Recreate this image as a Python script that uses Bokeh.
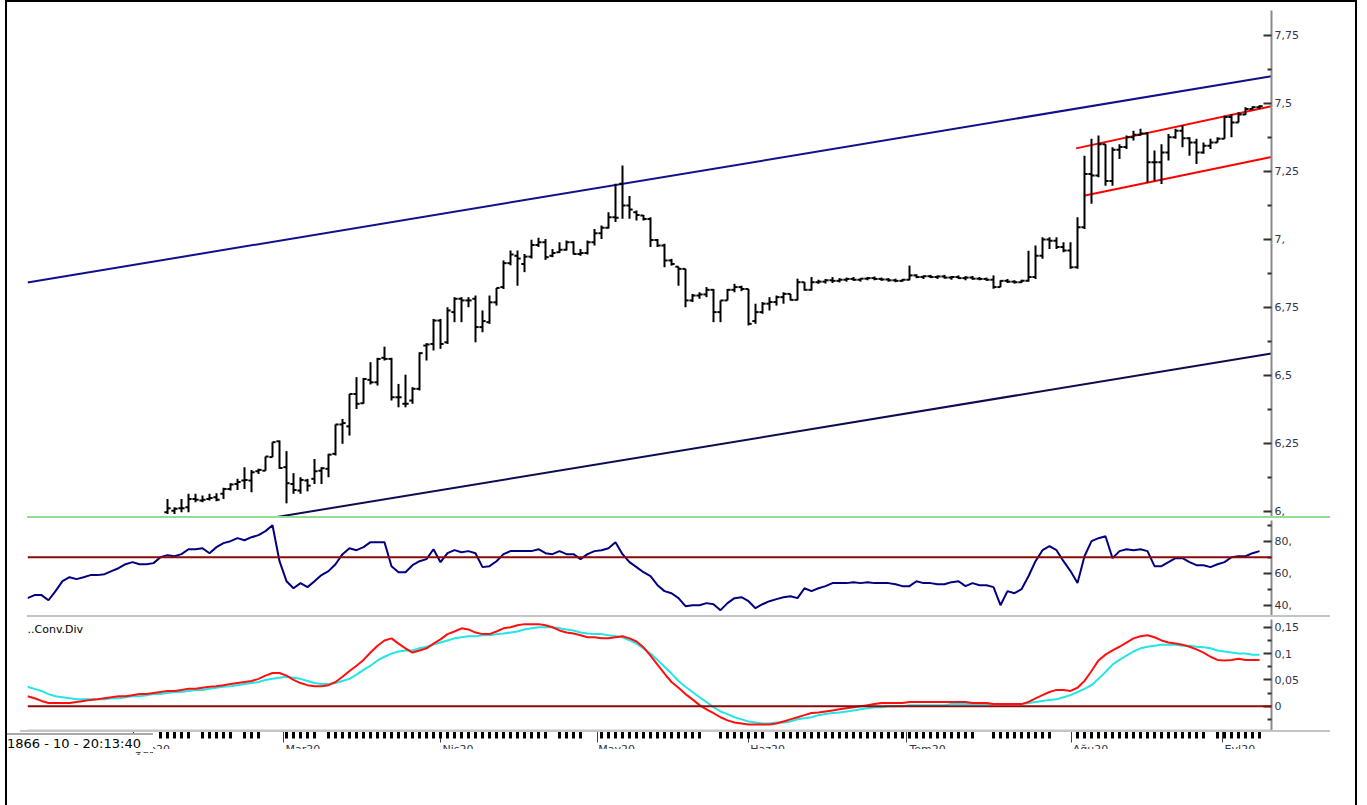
from bokeh.plotting import figure
from bokeh.models import Range1d, FixedTicker, Span, Label, Div
from bokeh.layouts import column, row
from bokeh.embed import file_html
from bokeh.resources import INLINE

FONT = "DejaVu Sans"

# ---------------- data ----------------
first_bar = 20  # bars before this index lie below the visible price range

opens = [5.997, 6.003, 6.012, 6.016, 6.046, 6.040, 6.046, 6.052, 6.065, 6.083,
         6.101, 6.114, 6.114, 6.148, 6.150, 6.200, 6.258, 6.163, 6.101, 6.077,
         6.114, 6.120, 6.150, 6.157, 6.212, 6.320, 6.313, 6.432, 6.398, 6.484,
         6.475, 6.565, 6.561, 6.420, 6.396, 6.408, 6.451, 6.610, 6.616, 6.702,
         6.622, 6.733, 6.782, 6.776, 6.782, 6.678, 6.696, 6.769, 6.825, 6.913,
         6.940, 6.910, 6.937, 6.980, 6.990, 6.940, 6.953, 6.962, 6.990, 6.947,
         6.950, 6.990, 7.023, 7.043, 7.082, 7.205, 7.125, 7.100, 7.088, 7.075,
         6.998, 6.978, 6.923, 6.900, 6.892, 6.776, 6.794, 6.798, 6.815, 6.733,
         6.776, 6.815, 6.825, 6.818, 6.700, 6.733, 6.764, 6.770, 6.788, 6.800,
         6.778, 6.843, 6.815, 6.843, 6.845, 6.850, 6.848, 6.852, 6.855, 6.852,
         6.856, 6.858, 6.855, 6.853, 6.850, 6.848, 6.852, 6.868, 6.862, 6.865,
         6.862, 6.864, 6.860, 6.862, 6.858, 6.860, 6.856, 6.855, 6.852, 6.825,
         6.848, 6.845, 6.843, 6.848, 6.862, 6.940, 7.000, 6.995, 6.972, 6.960,
         6.898, 7.045, 7.241, 7.235, 7.350, 7.215, 7.330, 7.340, 7.376, 7.385,
         7.390, 7.284, 7.284, 7.320, 7.376, 7.400, 7.372, 7.357, 7.320, 7.345,
         7.357, 7.370, 7.450, 7.430, 7.460, 7.480, 7.486]

highs = [6.046, 6.016, 6.046, 6.065, 6.065, 6.059, 6.065, 6.067, 6.087, 6.104,
         6.120, 6.163, 6.153, 6.157, 6.202, 6.255, 6.261, 6.222, 6.141, 6.126,
         6.120, 6.193, 6.163, 6.212, 6.320, 6.340, 6.432, 6.494, 6.491, 6.549,
         6.565, 6.606, 6.565, 6.469, 6.503, 6.457, 6.585, 6.619, 6.708, 6.708,
         6.751, 6.788, 6.788, 6.788, 6.794, 6.739, 6.794, 6.822, 6.923, 6.960,
         6.960, 6.947, 6.999, 7.006, 7.002, 6.965, 6.990, 6.996, 6.994, 6.965,
         6.996, 7.039, 7.051, 7.100, 7.205, 7.272, 7.160, 7.107, 7.090, 7.082,
         7.002, 6.984, 6.929, 6.900, 6.892, 6.800, 6.806, 6.825, 6.818, 6.776,
         6.818, 6.837, 6.830, 6.818, 6.764, 6.770, 6.788, 6.794, 6.806, 6.800,
         6.856, 6.843, 6.862, 6.852, 6.855, 6.862, 6.858, 6.860, 6.862, 6.858,
         6.862, 6.864, 6.860, 6.858, 6.856, 6.855, 6.904, 6.872, 6.868, 6.870,
         6.868, 6.870, 6.866, 6.868, 6.865, 6.866, 6.862, 6.860, 6.868, 6.850,
         6.855, 6.850, 6.852, 6.959, 6.978, 7.008, 7.008, 7.008, 6.990, 6.990,
         7.082, 7.308, 7.370, 7.382, 7.350, 7.339, 7.350, 7.382, 7.400, 7.407,
         7.395, 7.327, 7.350, 7.388, 7.407, 7.419, 7.376, 7.370, 7.357, 7.370,
         7.376, 7.455, 7.461, 7.468, 7.486, 7.490, 7.494]

lows = [5.991, 5.991, 5.997, 5.997, 6.034, 6.034, 6.040, 6.038, 6.046, 6.077,
        6.079, 6.083, 6.071, 6.138, 6.150, 6.200, 6.157, 6.030, 6.065, 6.065,
        6.074, 6.101, 6.101, 6.126, 6.206, 6.249, 6.279, 6.377, 6.396, 6.467,
        6.463, 6.555, 6.408, 6.383, 6.383, 6.396, 6.445, 6.555, 6.592, 6.598,
        6.616, 6.696, 6.696, 6.751, 6.622, 6.659, 6.690, 6.757, 6.818, 6.905,
        6.830, 6.880, 6.930, 6.972, 6.925, 6.935, 6.950, 6.960, 6.945, 6.940,
        6.945, 6.978, 7.002, 7.040, 7.064, 7.076, 7.076, 7.070, 7.070, 6.972,
        6.972, 6.898, 6.904, 6.830, 6.751, 6.770, 6.782, 6.788, 6.696, 6.696,
        6.776, 6.806, 6.810, 6.684, 6.690, 6.727, 6.739, 6.757, 6.764, 6.776,
        6.776, 6.812, 6.812, 6.837, 6.838, 6.840, 6.842, 6.845, 6.848, 6.845,
        6.850, 6.850, 6.848, 6.845, 6.843, 6.845, 6.850, 6.858, 6.855, 6.858,
        6.855, 6.856, 6.852, 6.855, 6.850, 6.852, 6.850, 6.848, 6.819, 6.825,
        6.840, 6.838, 6.840, 6.845, 6.855, 6.929, 6.965, 6.965, 6.953, 6.892,
        6.892, 7.039, 7.131, 7.229, 7.198, 7.198, 7.296, 7.333, 7.364, 7.382,
        7.210, 7.216, 7.204, 7.290, 7.370, 7.339, 7.308, 7.278, 7.315, 7.333,
        7.357, 7.370, 7.376, 7.430, 7.458, 7.478, 7.480]

closes = [6.012, 6.010, 6.012, 6.046, 6.043, 6.043, 6.050, 6.043, 6.083, 6.099,
          6.108, 6.116, 6.144, 6.153, 6.202, 6.255, 6.160, 6.104, 6.079, 6.116,
          6.095, 6.148, 6.159, 6.209, 6.320, 6.325, 6.432, 6.396, 6.487, 6.475,
          6.561, 6.561, 6.420, 6.420, 6.396, 6.451, 6.582, 6.614, 6.702, 6.616,
          6.739, 6.782, 6.776, 6.776, 6.678, 6.700, 6.769, 6.822, 6.913, 6.945,
          6.930, 6.937, 6.980, 6.990, 6.935, 6.950, 6.962, 6.990, 6.947, 6.950,
          6.990, 7.023, 7.043, 7.082, 7.080, 7.125, 7.110, 7.090, 7.075, 6.998,
          6.978, 6.923, 6.910, 6.892, 6.776, 6.794, 6.798, 6.815, 6.733, 6.776,
          6.815, 6.825, 6.818, 6.690, 6.733, 6.764, 6.770, 6.788, 6.800, 6.778,
          6.843, 6.815, 6.843, 6.845, 6.850, 6.848, 6.852, 6.855, 6.852, 6.856,
          6.858, 6.855, 6.853, 6.850, 6.848, 6.852, 6.868, 6.862, 6.865, 6.862,
          6.864, 6.860, 6.862, 6.858, 6.860, 6.856, 6.855, 6.852, 6.825, 6.848,
          6.845, 6.843, 6.848, 6.862, 6.940, 7.000, 6.995, 6.972, 6.960, 6.898,
          7.045, 7.241, 7.235, 7.350, 7.215, 7.330, 7.340, 7.376, 7.385, 7.390,
          7.284, 7.284, 7.320, 7.376, 7.400, 7.372, 7.357, 7.320, 7.345, 7.357,
          7.370, 7.450, 7.430, 7.460, 7.480, 7.486, 7.490]

rsi = [44.4, 46.3, 46.3, 43.1, 48.8, 55.0, 57.5, 56.3, 57.5, 58.8,
       58.8, 59.4, 61.3, 63.1, 65.6, 66.9, 65.6, 65.6, 66.3, 70.0,
       71.3, 70.6, 71.9, 75.0, 75.0, 75.6, 72.5, 76.3, 78.8, 80.0,
       81.9, 80.6, 82.5, 83.8, 86.3, 90.0, 67.5, 55.0, 50.6, 53.8,
       51.3, 55.0, 58.8, 61.3, 65.6, 71.9, 75.6, 74.4, 76.3, 79.4,
       79.4, 79.4, 64.4, 60.6, 60.6, 65.0, 67.5, 68.8, 75.0, 66.9,
       72.5, 74.4, 73.1, 73.8, 72.5, 63.8, 64.4, 67.5, 71.9, 73.8,
       73.8, 73.8, 73.8, 75.0, 72.5, 71.9, 73.8, 71.9, 71.9, 68.8,
       71.9, 73.8, 74.4, 75.6, 79.4, 71.9, 66.9, 63.8, 60.6, 58.1,
       52.5, 48.8, 47.5, 44.4, 39.4, 40.0, 40.0, 41.3, 40.6, 36.9,
       41.3, 44.4, 45.0, 42.5, 38.1, 40.6, 42.5, 43.8, 45.0, 45.6,
       44.4, 50.6, 48.8, 50.6, 51.9, 53.8, 53.8, 53.8, 54.4, 53.8,
       54.4, 53.8, 53.8, 53.8, 53.1, 51.9, 51.9, 55.0, 53.8, 53.8,
       53.1, 53.1, 54.4, 55.0, 51.9, 53.8, 52.5, 52.5, 51.3, 40.0,
       48.8, 47.5, 50.0, 58.1, 67.5, 74.4, 76.9, 74.4, 67.5, 61.3,
       53.8, 70.6, 80.0, 81.9, 83.1, 69.4, 73.8, 75.0, 74.4, 75.0,
       73.8, 64.4, 64.4, 66.9, 69.4, 69.4, 66.9, 65.0, 65.0, 63.8,
       65.6, 66.9, 70.0, 70.6, 70.6, 72.5, 73.8]

macd = [0.019, 0.015, 0.010, 0.006, 0.006, 0.006, 0.006, 0.008, 0.010, 0.012,
        0.013, 0.015, 0.017, 0.019, 0.019, 0.021, 0.023, 0.023, 0.025, 0.027,
        0.029, 0.029, 0.031, 0.033, 0.033, 0.035, 0.037, 0.038, 0.040, 0.042,
        0.044, 0.046, 0.048, 0.052, 0.058, 0.063, 0.063, 0.058, 0.050, 0.044,
        0.040, 0.038, 0.038, 0.040, 0.046, 0.056, 0.067, 0.077, 0.088, 0.102,
        0.115, 0.125, 0.129, 0.119, 0.110, 0.102, 0.106, 0.110, 0.119, 0.127,
        0.137, 0.142, 0.148, 0.146, 0.140, 0.137, 0.137, 0.142, 0.148, 0.150,
        0.154, 0.156, 0.156, 0.156, 0.154, 0.150, 0.144, 0.140, 0.138, 0.135,
        0.131, 0.131, 0.129, 0.129, 0.131, 0.133, 0.129, 0.123, 0.112, 0.096,
        0.079, 0.062, 0.046, 0.035, 0.023, 0.013, 0.002, -0.006, -0.013, -0.021,
        -0.027, -0.031, -0.033, -0.035, -0.035, -0.035, -0.035, -0.033, -0.029, -0.025,
        -0.021, -0.017, -0.013, -0.012, -0.010, -0.008, -0.006, -0.004, -0.002, 0.000,
        0.002, 0.004, 0.006, 0.006, 0.006, 0.006, 0.008, 0.008, 0.008, 0.008,
        0.008, 0.008, 0.008, 0.008, 0.008, 0.006, 0.006, 0.006, 0.004, 0.004,
        0.004, 0.004, 0.004, 0.008, 0.015, 0.021, 0.027, 0.031, 0.031, 0.029,
        0.035, 0.048, 0.067, 0.087, 0.098, 0.106, 0.113, 0.121, 0.129, 0.133,
        0.135, 0.131, 0.125, 0.121, 0.119, 0.117, 0.113, 0.108, 0.102, 0.094,
        0.088, 0.087, 0.088, 0.090, 0.088, 0.088, 0.088]

signal = [0.037, 0.033, 0.029, 0.023, 0.019, 0.017, 0.015, 0.013, 0.013, 0.013,
          0.013, 0.013, 0.015, 0.015, 0.017, 0.019, 0.019, 0.021, 0.023, 0.023,
          0.025, 0.027, 0.027, 0.029, 0.031, 0.031, 0.033, 0.035, 0.037, 0.038,
          0.040, 0.042, 0.044, 0.046, 0.050, 0.052, 0.054, 0.056, 0.054, 0.052,
          0.048, 0.044, 0.042, 0.042, 0.044, 0.048, 0.052, 0.060, 0.069, 0.077,
          0.087, 0.094, 0.100, 0.104, 0.106, 0.106, 0.110, 0.113, 0.117, 0.121,
          0.125, 0.129, 0.131, 0.133, 0.133, 0.135, 0.135, 0.137, 0.138, 0.140,
          0.142, 0.146, 0.148, 0.150, 0.150, 0.150, 0.148, 0.146, 0.144, 0.140,
          0.138, 0.137, 0.137, 0.135, 0.133, 0.131, 0.125, 0.119, 0.110, 0.100,
          0.088, 0.075, 0.062, 0.048, 0.037, 0.027, 0.017, 0.008, -0.002, -0.010,
          -0.015, -0.021, -0.025, -0.029, -0.031, -0.033, -0.033, -0.031, -0.031, -0.029,
          -0.025, -0.023, -0.021, -0.017, -0.015, -0.013, -0.012, -0.010, -0.008, -0.006,
          -0.004, -0.002, -0.002, 0.000, 0.000, 0.000, 0.002, 0.002, 0.002, 0.002,
          0.002, 0.002, 0.004, 0.004, 0.004, 0.004, 0.004, 0.004, 0.004, 0.004,
          0.004, 0.004, 0.004, 0.006, 0.008, 0.010, 0.012, 0.013, 0.017, 0.021,
          0.027, 0.033, 0.040, 0.052, 0.065, 0.079, 0.088, 0.096, 0.104, 0.110,
          0.113, 0.115, 0.117, 0.117, 0.117, 0.115, 0.115, 0.113, 0.112, 0.110,
          0.106, 0.104, 0.102, 0.100, 0.100, 0.098, 0.098]

# trend channels (bar index, price)
blue_upper_x = [0, 177.7]
blue_upper_y = [6.842, 7.600]
blue_lower_x = [0, 177.7]
blue_lower_y = [5.829, 6.581]
red_upper_x = [149.8, 177.7]
red_upper_y = [7.335, 7.490]
red_lower_x = [150.9, 177.7]
red_lower_y = [7.161, 7.303]

# axes
month_pos = [15.1, 36.6, 59.0, 81.4, 103.0, 125.6, 149.1, 170.7]
month_labels = ["Şub20", "Mar20", "Nis20", "May20", "Haz20", "Tem20", "Ağu20", "Eyl20"]
first_day_tick = 19
missing_day_ticks = [24, 30, 34, 35, 36, 42, 75, 80, 81, 97, 98, 106,
                     136, 137, 147, 148, 149, 169]
price_ticks = [6.0, 6.25, 6.5, 6.75, 7.0, 7.25, 7.5, 7.75]
price_tick_labels = ["6,", "6,25", "6,5", "6,75", "7,", "7,25", "7,5", "7,75"]
price_minor = [6.125, 6.375, 6.625, 6.875, 7.125, 7.375, 7.625]
rsi_ticks = [40, 60, 80]
rsi_tick_labels = ["40,", "60,", "80,"]
rsi_minor = [50, 70, 90]
rsi_level = 70
macd_ticks = [0, 0.05, 0.1, 0.15]
macd_tick_labels = ["0", "0,05", "0,1", "0,15"]
macd_minor = [-0.025, 0.025, 0.075, 0.125]
macd_level = 0
macd_title = "..Conv.Div"
status_text = "1866 - 10 - 20:13:40"

# ---------------- figures ----------------
N = len(rsi)
idx = list(range(N))
bar_x = list(range(first_bar, first_bar + len(closes)))
day_ticks = [i for i in range(first_day_tick, N) if i not in missing_day_ticks]
TICK = 0.45

x_range = Range1d(0, 1244 / 7)
PW = 1348

# approximate DejaVu Sans advance widths (em) -> left-align month labels on their tick
ADV = {"M": .863, "a": .613, "r": .411, "2": .636, "0": .636, "N": .748, "i": .278,
       "s": .521, "y": .592, "H": .752, "z": .525, "T": .611, "e": .615, "m": .974,
       "A": .684, "ğ": .635, "u": .634, "E": .632, "l": .278, "Ş": .635, "b": .635}
NBSP_EM = 0.318


def left_aligned(label):
    w = sum(ADV.get(ch, 0.6) for ch in label) + 0.25
    return "\u00a0" * round(w / NBSP_EM) + label


def make_fig(height, y0, y1, top, bottom, xaxis=None):
    p = figure(width=PW, height=height, x_range=x_range, y_range=Range1d(y0, y1),
               output_backend="svg", toolbar_location=None, tools="",
               x_axis_location=xaxis, y_axis_location="right",
               min_border_left=20, min_border_right=84,
               min_border_top=top, min_border_bottom=bottom,
               background_fill_color="white", border_fill_color="white")
    p.grid.visible = False
    p.outline_line_color = None
    return p


def style_y(p, ticks, labels, minor):
    ax = p.yaxis[0]
    ax.ticker = FixedTicker(ticks=ticks, minor_ticks=minor)
    ax.major_label_overrides = {t: l for t, l in zip(ticks, labels)}
    ax.axis_line_color = "#8a8a8a"
    ax.axis_line_width = 2
    ax.major_tick_in = 8
    ax.major_tick_out = 0
    ax.minor_tick_in = 4
    ax.minor_tick_out = 0
    ax.major_tick_line_color = "#303030"
    ax.major_tick_line_width = 2
    ax.minor_tick_line_color = "#303030"
    ax.minor_tick_line_width = 2
    ax.major_label_standoff = 3
    ax.major_label_text_font = FONT
    ax.major_label_text_font_size = "11px"
    ax.major_label_text_color = "#34344a"


# price panel (extra bottom border so the "6," label is not cut by the canvas edge)
p1 = make_fig(522, 5.9816, 7.8419, 8, 8)
style_y(p1, price_ticks, price_tick_labels, price_minor)
p1.line(blue_upper_x, blue_upper_y, line_color="#10108c", line_width=2)
p1.line(blue_lower_x, blue_lower_y, line_color="#0c0c50", line_width=2)
p1.line(red_upper_x, red_upper_y, line_color="#ff0000", line_width=2)
p1.line(red_lower_x, red_lower_y, line_color="#ff0000", line_width=2)
p1.segment(x0=bar_x, y0=lows, x1=bar_x, y1=highs, line_color="black", line_width=2)
p1.segment(x0=[x - TICK for x in bar_x], y0=opens, x1=bar_x, y1=opens,
           line_color="black", line_width=2)
p1.segment(x0=bar_x, y0=closes, x1=[x + TICK for x in bar_x], y1=closes,
           line_color="black", line_width=2)

# RSI panel
p2 = make_fig(97, 33.56, 92.94, 2, 0)
style_y(p2, rsi_ticks, rsi_tick_labels, rsi_minor)
p2.add_layout(Span(location=rsi_level, dimension="width", line_color="#8b0a0a", line_width=2))
p2.line(idx, rsi, line_color="#000080", line_width=2)

# MACD panel with time axis
p3 = make_fig(147, -0.0462, 0.1648, 2, 34, xaxis="below")
style_y(p3, macd_ticks, macd_tick_labels, macd_minor)
p3.add_layout(Span(location=macd_level, dimension="width", line_color="#8b0a0a", line_width=2))
p3.line(idx, signal, line_color="#22e6e6", line_width=2)
p3.line(idx, macd, line_color="#ff1010", line_width=2)

xa = p3.xaxis[0]
xa.ticker = FixedTicker(ticks=month_pos, minor_ticks=day_ticks)
xa.major_label_overrides = {t: left_aligned(l) for t, l in zip(month_pos, month_labels)}
xa.axis_line_color = "#c4c4c4"
xa.axis_line_width = 2
xa.major_tick_in = 0
xa.major_tick_out = 12
xa.major_tick_line_color = "#404040"
xa.major_tick_line_width = 1
xa.minor_tick_in = -1
xa.minor_tick_out = 8
xa.minor_tick_line_color = "black"
xa.minor_tick_line_width = 3
xa.major_label_standoff = 0
xa.major_label_text_font = FONT
xa.major_label_text_font_size = "11px"
xa.major_label_text_color = "#34344a"

p3.add_layout(Label(x=0, y=0.158, text=macd_title, text_baseline="top",
                    text_font=FONT, text_font_size="11px", text_color="black"))


def rule(w, h, color, mt=0, ml=0):
    return Div(text="", width=w, height=h, margin=(mt, 0, 0, ml),
               styles={"background-color": color})


status = Div(text='<div style="font-family:\'DejaVu Sans\';font-size:13px;color:black;'
                  'line-height:15px;padding-top:1px;white-space:nowrap">'
                  + status_text + '</div>',
             width=146, height=19, margin=(1, 0, 0, 0),
             styles={"background-color": "white", "border-top": "2px solid #a8a8a8"})

# p3 occupies y 617..764; later elements are pulled up over its lower part
main = column(rule(PW, 2, "black"), p1, rule(1303, 2, "#93dc93", -8, 20), p2,
              rule(1303, 2, "#c4c4c4", 0, 20), p3,
              rule(1310, 2, "#c4c4c4", -34, 13),
              status,
              rule(PW - 146, 56, "white", -3, 146),
              width=PW, margin=(0, 0, 0, 0))

root = row(rule(2, 805, "black", 0, 5), main, rule(2, 805, "black"), margin=(0, 0, 0, 0))

open("out.html", "w").write(file_html(root, INLINE))
